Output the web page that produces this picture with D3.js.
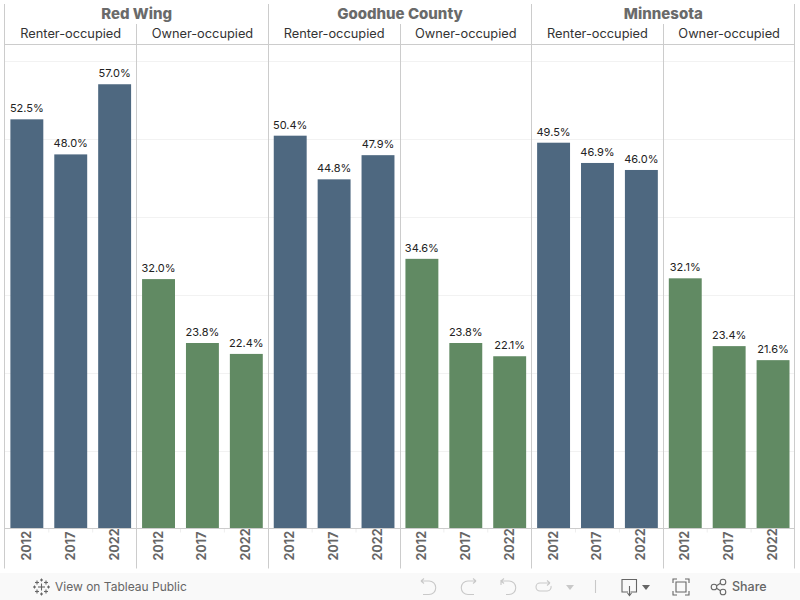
<!DOCTYPE html>
<html><head><meta charset="utf-8">
<script src="https://cdn.jsdelivr.net/npm/d3@7/dist/d3.min.js"></script>
<style>html,body{margin:0;padding:0;background:#fff}svg{display:block}text{font-family:"Inter","Open Sans",sans-serif}</style>
</head><body><svg id="c" width="800" height="600"></svg>
<script>
const regions = ["Red Wing","Goodhue County","Minnesota"];
const tenures = ["Renter-occupied","Owner-occupied"];
const years = ["2012","2017","2022"];
const redWingRenter = [52.5,48.0,57.0];
const redWingOwner = [32.0,23.8,22.4];
const goodhueRenter = [50.4,44.8,47.9];
const goodhueOwner = [34.6,23.8,22.1];
const minnesotaRenter = [49.5,46.9,46.0];
const minnesotaOwner = [32.1,23.4,21.6];
const gridTicks = [10,20,30,40,50,60];
const seriesValues = [redWingRenter,redWingOwner,goodhueRenter,goodhueOwner,minnesotaRenter,minnesotaOwner];
const colors = {"Renter-occupied":"#4e6880","Owner-occupied":"#618a63"};

const svg = d3.select("#c");
const xLeft=4.5,xRight=794.5,yTop=44.5,yBase=528.5,yEnd=568.5;
const y = d3.scaleLinear().domain([0,62.1]).range([yBase,yTop]);
const xR = d3.scaleBand().domain(regions).range([4.9,795]);
const xT = d3.scaleBand().domain(tenures).range([0,xR.bandwidth()]);
const xY = d3.scaleBand().domain(years).range([0,xT.bandwidth()]).paddingInner(0.25).paddingOuter(0.125);
const snap = v => Math.floor(v+.05)+.5;

// grid
svg.append("g").selectAll("line").data(gridTicks).join("line")
  .attr("x1",xLeft).attr("x2",xRight)
  .attr("y1",d=>Math.round(y(d))+.5).attr("y2",d=>Math.round(y(d))+.5)
  .attr("stroke","#f2f2f2");

const rows=[];
regions.forEach((r,i)=>tenures.forEach((t,j)=>{
  seriesValues[i*2+j].forEach((v,k)=>rows.push({r,t,year:years[k],v}));
}));
const bx=d=>xR(d.r)+xT(d.t)+xY(d.year);

svg.append("g").selectAll("rect").data(rows).join("rect")
  .attr("x",bx).attr("width",xY.bandwidth())
  .attr("y",d=>y(d.v)).attr("height",d=>y(0)-y(d.v))
  .attr("fill",d=>colors[d.t]);

svg.append("g").selectAll("text").data(rows).join("text")
  .attr("x",d=>bx(d)+xY.bandwidth()/2).attr("y",d=>y(d.v)-7)
  .attr("text-anchor","middle").attr("font-size",11).attr("fill","#222")
  .text(d=>d.v.toFixed(1)+"%");

// year labels
svg.append("g").selectAll("text").data(rows).join("text")
  .attr("transform",d=>`translate(${bx(d)+xY.bandwidth()/2+4},${560.5}) rotate(-90)`)
  .attr("font-size",12.5).attr("font-weight",700).attr("fill","#666")
  .text(d=>d.year);

// faint ticks between years under the axis
svg.append("g").selectAll("line").data(regions.flatMap(r=>tenures.flatMap(t=>years.slice(1).map(yr=>({r,t,year:yr}))))).join("line")
  .attr("x1",d=>bx(d)-xY.step()*0.125).attr("x2",d=>bx(d)-xY.step()*0.125)
  .attr("y1",yBase).attr("y2",yBase+4).attr("stroke","#eeeeee");

// frame
const lineC="#cccccc";
const g=svg.append("g").attr("stroke",lineC).attr("fill","none");
g.append("line").attr("x1",xLeft).attr("x2",xRight).attr("y1",yTop).attr("y2",yTop);
g.append("line").attr("x1",xLeft).attr("x2",xRight).attr("y1",yBase).attr("y2",yBase);
regions.forEach(r=>{
  const x=snap(xR(r));
  g.append("line").attr("x1",x).attr("x2",x).attr("y1",4).attr("y2",yEnd);
  const m=snap(xR(r)+xT(tenures[1]));
  g.append("line").attr("x1",m).attr("x2",m).attr("y1",24).attr("y2",yEnd);
});
g.append("line").attr("x1",xRight).attr("x2",xRight).attr("y1",4).attr("y2",yEnd);

svg.append("g").selectAll("text").data(regions).join("text")
  .attr("x",r=>xR(r)+xR.bandwidth()/2).attr("y",19)
  .attr("text-anchor","middle").attr("font-size",15).attr("font-weight",800).attr("fill","#6a6a6a")
  .text(r=>r);
const sub=regions.flatMap(r=>tenures.map(t=>({r,t})));
svg.append("g").selectAll("text").data(sub).join("text")
  .attr("x",d=>xR(d.r)+xT(d.t)+xT.bandwidth()/2).attr("y",38)
  .attr("text-anchor","middle").attr("font-size",12.8).attr("fill","#333")
  .text(d=>d.t);

// footer
const f=svg.append("g");
f.append("rect").attr("x",0).attr("y",573).attr("width",800).attr("height",27).attr("fill","#f9f9f9");
f.append("text").attr("x",55).attr("y",591).attr("font-size",12).attr("fill","#666").text("View on Tableau Public");
f.append("text").attr("x",732).attr("y",591).attr("font-size",12.5).attr("font-weight",500).attr("fill","#666").text("Share");
const ic=f.append("g").attr("fill","none").attr("stroke-width",1.1);
const logo=ic.append("g").attr("stroke","#666").attr("transform","translate(41.5,587)");
[[0,0,3.5],[-4.5,-4.5,2],[4.5,-4.5,2],[-4.5,4.5,2],[4.5,4.5,2],[0,-7,1.5],[0,7,1.5],[-7,0,1.5],[7,0,1.5]]
  .forEach(a=>{
    logo.append("line").attr("x1",a[0]-a[2]).attr("y1",a[1]).attr("x2",a[0]+a[2]).attr("y2",a[1]);
    logo.append("line").attr("x1",a[0]).attr("y1",a[1]-a[2]).attr("x2",a[0]).attr("y2",a[1]+a[2]);
  });
const pale="#c9c9c9",dark="#666";
ic.append("path").attr("stroke",pale).attr("d","M421 581h8a6.5 6.5 0 0 1 0 13.500h-6M421 581l3-2.500M421 581l3 2.500");
ic.append("path").attr("stroke",pale).attr("d","M476 581h-8a6.500 6.500 0 0 0 0 13.500h6M476 581l-3-2.500M476 581l-3 2.500");
ic.append("path").attr("stroke",pale).attr("d","M501 580v5M501 581h8a6.500 6.500 0 0 1 0 13.500h-3M501 581l3-2.500M501 581l3 2.500");
ic.append("path").attr("stroke",pale).attr("d","M550 583h-10a4 4 0 0 0 0 8h7a4 4 0 0 0 4-5M550 583l-3-2.500M550 583l-3 2.500");
f.append("path").attr("fill",pale).attr("d","M566 585h8l-4 5z");
ic.append("line").attr("stroke",pale).attr("x1",595.500).attr("x2",595.500).attr("y1",580).attr("y2",593);
ic.append("path").attr("stroke",dark).attr("d","M628 592h-6v-12.500h14.500v12.500h-6M629.500 586v9M627.500 593l2 2.500l2-2.500");
f.append("path").attr("fill",dark).attr("d","M642 585h8l-4 5z");
ic.append("path").attr("stroke",dark).attr("d","M673 583v-4h4M685 579h4v4M689 591v4h-4M677 595h-4v-4M676 582h10v10h-10z");
ic.append("circle").attr("stroke",dark).attr("cx",714).attr("cy",587).attr("r",2.800);
ic.append("circle").attr("stroke",dark).attr("cx",723).attr("cy",582).attr("r",2.800);
ic.append("circle").attr("stroke",dark).attr("cx",723).attr("cy",592).attr("r",2.800);
ic.append("path").attr("stroke",dark).attr("d","M716.500 585.700l4-2.400M716.500 588.300l4 2.400");
</script></body></html>
